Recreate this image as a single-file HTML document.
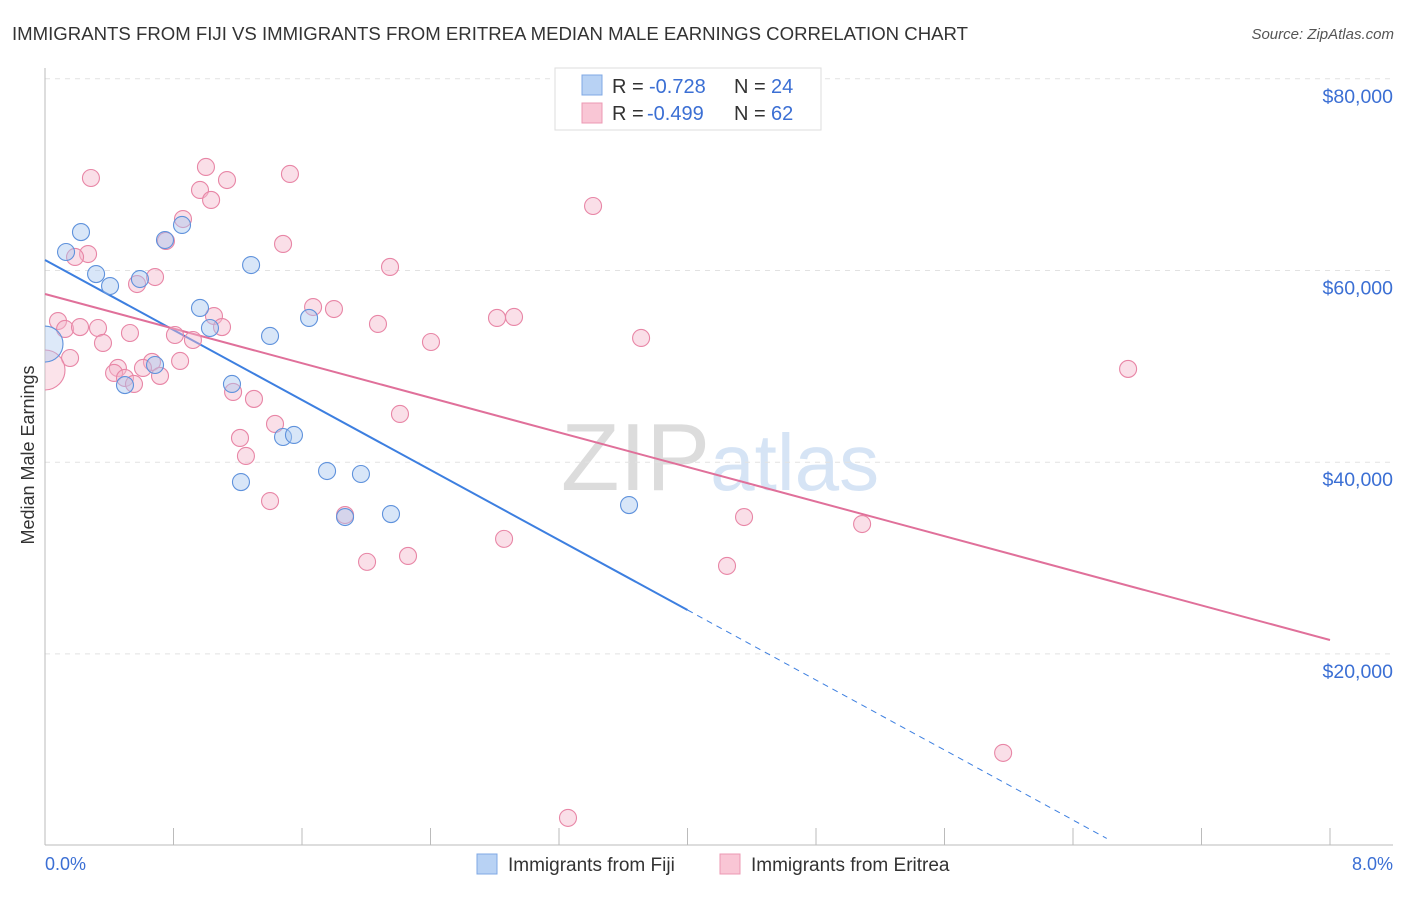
<!DOCTYPE html>
<html><head><meta charset="utf-8"><style>
body{margin:0;background:#fff;font-family:"Liberation Sans",sans-serif;}
svg text{font-family:"Liberation Sans",sans-serif;}
</style></head><body>
<svg id="chart" width="1406" height="892" xmlns="http://www.w3.org/2000/svg">
<defs><clipPath id="plotclip"><rect x="45" y="60" width="1360" height="786"/></clipPath></defs>
<text x="12" y="40" font-size="18" fill="#333" textLength="956" lengthAdjust="spacingAndGlyphs">IMMIGRANTS FROM FIJI VS IMMIGRANTS FROM ERITREA MEDIAN MALE EARNINGS CORRELATION CHART</text>
<text x="1394" y="39" font-size="15" fill="#555" text-anchor="end" font-style="italic">Source: ZipAtlas.com</text>
<text x="720" y="490" font-size="96" fill="#e8e8e8" text-anchor="middle" font-family="Liberation Serif"><tspan fill="#dcdcdc">ZIP</tspan><tspan fill="#d6e4f5" font-family="Liberation Sans" font-size="80">atlas</tspan></text>
<g id="grid"></g><g id="axes"></g><g id="lines"></g><g id="pts" clip-path="url(#plotclip)"></g>
<text transform="translate(34,455) rotate(-90)" font-size="18" fill="#333" text-anchor="middle">Median Male Earnings</text>
<text x="45" y="870" font-size="18" fill="#3b6fd4">0.0%</text>
<text x="1393" y="870" font-size="18" fill="#3b6fd4" text-anchor="end">8.0%</text>
<g>
<rect x="555" y="68" width="266" height="62" fill="#fff" stroke="#ddd"/>
<rect x="582" y="75" width="20" height="20" fill="#b8d2f4" stroke="#7fa8e4"/>
<rect x="582" y="103" width="20" height="20" fill="#f9c6d5" stroke="#ec98b3"/>
<text x="612" y="93" font-size="20" fill="#333">R = <tspan fill="#3b6fd4" x="649">-0.728</tspan><tspan x="734">N = </tspan><tspan fill="#3b6fd4" x="771">24</tspan></text>
<text x="612" y="120" font-size="20" fill="#333">R = <tspan fill="#3b6fd4" x="647">-0.499</tspan><tspan x="734">N = </tspan><tspan fill="#3b6fd4" x="771">62</tspan></text>
</g>
<g>
<rect x="477" y="854" width="20" height="20" fill="#b8d2f4" stroke="#7fa8e4"/>
<text x="508" y="871" font-size="19" fill="#333">Immigrants from Fiji</text>
<rect x="720" y="854" width="20" height="20" fill="#f9c6d5" stroke="#ec98b3"/>
<text x="751" y="871" font-size="19" fill="#333">Immigrants from Eritrea</text>
</g>
</svg>
<script>
const yTicks=[20000,40000,60000,80000];
const yTickLabels=["$20,000","$40,000","$60,000","$80,000"];
const fijiX=[0.131,0.224,0.318,0.405,0.591,0.747,0.853,0.965,1.027,1.283,1.401,0.685,0.498,1.164,1.220,1.482,1.550,1.644,1.756,1.967,1.868,2.154,3.636,0.0];
const fijiY=[61.93,64.01,59.63,58.38,59.11,63.18,64.75,56.09,54.00,60.57,53.17,50.14,48.05,48.16,37.93,42.63,42.84,55.05,39.08,38.77,34.28,34.59,35.53,52.33];
const eriX=[0.286,1.002,1.525,1.133,0.965,1.034,0.859,0.753,1.482,0.268,0.187,2.148,0.685,0.573,3.412,1.669,1.799,1.052,2.814,2.920,0.081,0.125,0.218,0.330,0.529,1.102,2.073,0.809,0.921,0.361,2.403,3.711,0.156,0.666,0.841,0.454,0.610,0.430,0.716,0.498,0.554,1.171,1.301,2.210,1.432,1.214,1.251,6.743,1.401,1.868,4.352,5.087,2.858,2.260,2.005,4.246,5.965,3.256,0.0];
const eriY=[69.65,70.80,70.07,69.44,68.40,67.36,65.37,63.08,62.77,61.72,61.41,60.37,59.32,58.59,66.73,56.19,55.98,55.25,55.05,55.15,54.73,53.90,54.10,54.00,53.48,54.10,54.42,53.27,52.75,52.44,52.54,52.96,50.87,50.46,50.56,49.83,49.83,49.31,49.00,48.79,48.16,47.33,46.60,45.03,43.99,42.53,40.65,49.73,35.95,34.49,34.28,33.55,32.00,30.22,29.60,29.18,9.67,2.89,49.62];
const fijiFit=[61.1,-9.13]; const fijiSolidEnd=4.0; const fijiDashEnd=6.61;
const eriFit=[57.55,-4.5125];
const NS="http://www.w3.org/2000/svg";
const X=p=>45+p/8*1285;
const Y=v=>845.6-v/20000*191.7;
function mk(t,a,parent){const e=document.createElementNS(NS,t);for(const k in a)e.setAttribute(k,a[k]);document.getElementById(parent).appendChild(e);return e;}
yTicks.forEach((t,i)=>{
 const l=mk('line',{x1:45,x2:1393,y1:Y(t),y2:Y(t),stroke:'#e2e2e2','stroke-dasharray':'5,5'},'grid');
 
 
 const tx=mk('text',{x:1393,y:Y(t)+24,'font-size':19.5,fill:'#3b6fd4','text-anchor':'end'},'grid');
 tx.textContent=yTickLabels[i];
 
 
});
const xa=mk('line',{x1:45,x2:1393,y1:845,y2:845,stroke:'#bbb'},'axes');


const ya=mk('line',{x1:45,x2:45,y1:68,y2:845,stroke:'#bbb'},'axes');


for(let i=1;i<=10;i++){const t=mk('line',{x1:X(i*0.8),x2:X(i*0.8),y1:828,y2:845,stroke:'#bbb'},'axes');
 
 }
function pts(xs,ys,fill,stroke,name,bigR){xs.forEach((x,i)=>{const big=i===xs.length-1;
 const c=mk('circle',{cx:X(x),cy:Y(ys[i]*1000),r:big?bigR:8.5,fill:fill,'fill-opacity':big?0.4:0.45,stroke:stroke,'stroke-width':1.1},'pts');
 
 });}
pts(eriX,eriY,'#f5b8cb','#e886a6','eritrea-point',20);
pts(fijiX,fijiY,'#a9c8f0','#5f92dc','fiji-point',18);
const fv=x=>(fijiFit[0]+fijiFit[1]*x)*1000, ev=x=>(eriFit[0]+eriFit[1]*x)*1000;
const l1=mk('line',{x1:X(0),y1:Y(fv(0)),x2:X(fijiSolidEnd),y2:Y(fv(fijiSolidEnd)),stroke:'#3d7fe0','stroke-width':2},'lines');


const l2=mk('line',{x1:X(fijiSolidEnd),y1:Y(fv(fijiSolidEnd)),x2:X(fijiDashEnd),y2:Y(fv(fijiDashEnd)),stroke:'#3d7fe0','stroke-width':1,'stroke-dasharray':'6,5'},'lines');


const l3=mk('line',{x1:X(0),y1:Y(ev(0)),x2:X(8),y2:Y(ev(8)),stroke:'#e0709a','stroke-width':2},'lines');


</script>
</body></html>
